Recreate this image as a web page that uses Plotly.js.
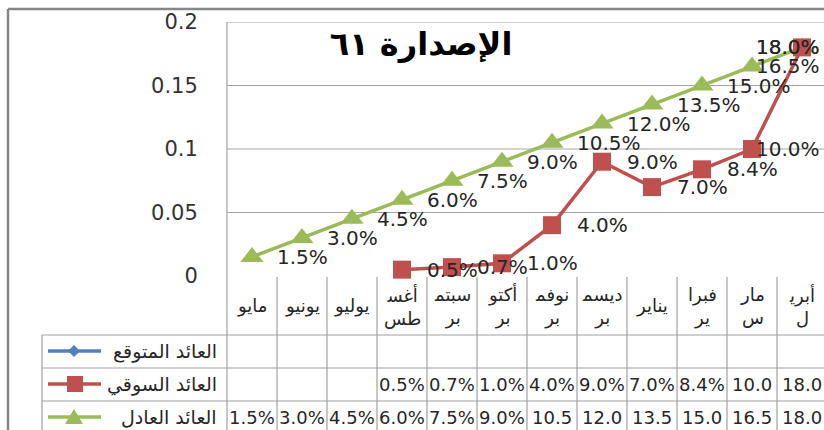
<!DOCTYPE html>
<html>
<head>
<meta charset="utf-8">
<script src="https://cdn.plot.ly/plotly-3.0.1.min.js"></script>
<style>html,body{margin:0;padding:0;background:#fff;}#chart{width:824px;height:430px;}</style>
</head>
<body>
<div id="chart"></div>
<script>
// ---- data ----
const months = ['مايو','يونيو','يوليو','أغسطس','سبتمبر','أكتوبر','نوفمبر','ديسمبر','يناير','فبراير','مارس','أبريل'];
const monthLabels = ['مايو','يونيو','يوليو','أغس\u200d<br>طس','سبتم\u200d<br>بر','أكتو<br>بر','نوفم\u200d<br>بر','ديسم\u200d<br>بر','يناير','فبرا<br>ير','مار<br>س','أبري\u200d<br>ل'];
const seriesNames = ['العائد المتوقع','العائد السوقي','العائد العادل'];
const expectedReturn = [null,null,null,null,null,null,null,null,null,null,null,null];
const marketReturn = [null,null,null,0.005,0.007,0.010,0.040,0.090,0.070,0.084,0.100,0.180];
const fairReturn = [0.015,0.030,0.045,0.060,0.075,0.090,0.105,0.120,0.135,0.150,0.165,0.180];
const yTickVals = [0,0.05,0.1,0.15,0.2];
const yTickText = ['0','0.05','0.1','0.15','0.2'];
const chartTitle = 'الإصدارة ٦١';

// ---- style ----
const colors = ['#4F81BD','#C0504D','#9BBB59'];
const FONT = 'DejaVu Sans, sans-serif';
const W = 824, H = 430, L = 227, T = 22, B = 276;
const xRange = [-0.5, 11.44];
const PX = px => (px - L) / (W - L);
const PY = py => (B - py) / (B - T);
const fmt = v => (v * 100).toFixed(1) + '%';
const gridColor = '#a6a6a6';
const tableColor = '#a0a0a0';

const traces = [
  {x: months, y: expectedReturn, name: seriesNames[0], type: 'scatter', mode: 'lines+markers',
   line: {color: colors[0], width: 3.5}, marker: {symbol: 'diamond', size: 12, color: colors[0]}, cliponaxis: false},
  {x: months, y: fairReturn, name: seriesNames[2], type: 'scatter', mode: 'lines+markers',
   line: {color: colors[2], width: 3.5}, marker: {symbol: 'triangle-up', size: 20, color: colors[2]}, cliponaxis: false},
  {x: months, y: marketReturn, name: seriesNames[1], type: 'scatter', mode: 'lines+markers',
   line: {color: colors[1], width: 3.5}, marker: {symbol: 'square', size: 18, color: colors[1]}, cliponaxis: false}
];

const annotations = [];
const shapes = [];

// data labels
[fairReturn, marketReturn].forEach(arr => {
  arr.forEach((v, i) => {
    if (v === null) return;
    if (i >= 10) {
      annotations.push({xref: 'paper', yref: 'y', x: PX(821), y: v, text: fmt(v), showarrow: false,
        xanchor: 'right', yanchor: 'middle', borderpad: 0, font: {family: FONT, size: 20, color: '#262626'}});
    } else {
      annotations.push({xref: 'x', yref: 'y', x: months[i], y: v, text: fmt(v), showarrow: false,
        xanchor: 'left', yanchor: 'middle', xshift: 24, borderpad: 0, font: {family: FONT, size: 20, color: '#262626'}});
    }
  });
});

// horizontal gridlines (except zero)
yTickVals.forEach(v => {
  if (v === 0) return;
  shapes.push({type: 'line', xref: 'paper', yref: 'y', x0: 0, x1: 1, y0: v, y1: v, line: {color: gridColor, width: 1.2}, layer: 'below'});
});

// category labels
monthLabels.forEach((lab, i) => {
  annotations.push({xref: 'x', yref: 'paper', x: months[i], y: PY(306), text: lab, showarrow: false,
    xanchor: 'center', yanchor: 'middle', font: {family: FONT, size: 18, color: '#262626'}});
});

// table
const rowCenters = [351, 384, 417];
const rowLines = [335, 368, 401];
rowLines.forEach(py => shapes.push({type: 'line', xref: 'paper', yref: 'paper', x0: PX(42), x1: 1, y0: PY(py), y1: PY(py), line: {color: tableColor, width: 1.2}}));
shapes.push({type: 'line', xref: 'paper', yref: 'paper', x0: PX(42), x1: PX(42), y0: PY(335), y1: PY(440), line: {color: tableColor, width: 1.2}});
shapes.push({type: 'line', xref: 'paper', yref: 'paper', x0: 0, x1: 0, y0: 1, y1: PY(440), line: {color: tableColor, width: 1.2}});
for (let i = 0; i < months.length; i++) {
  shapes.push({type: 'line', xref: 'x', yref: 'paper', x0: i + 0.5, x1: i + 0.5, y0: PY(277), y1: PY(440), line: {color: tableColor, width: 1.2}});
}
const tableRows = [expectedReturn, marketReturn, fairReturn];
tableRows.forEach((arr, r) => {
  arr.forEach((v, i) => {
    if (v === null) return;
    let s = fmt(v);
    if (s.length > 4) s = s.slice(0, 4); // cell clips overflowing text
    annotations.push({xref: 'x', yref: 'paper', x: months[i], y: PY(rowCenters[r]), text: s, showarrow: false,
      xanchor: 'center', yanchor: 'middle', font: {family: FONT, size: 18, color: '#262626'}});
  });
  // legend label
  annotations.push({xref: 'paper', yref: 'paper', x: PX(219), y: PY(rowCenters[r]), text: seriesNames[r], showarrow: false,
    xanchor: 'right', yanchor: 'middle', font: {family: FONT, size: 19, color: '#262626'}});
  const cy = rowCenters[r];
  shapes.push({type: 'line', xref: 'paper', yref: 'paper', x0: PX(48), x1: PX(101), y0: PY(cy), y1: PY(cy), line: {color: colors[r], width: 3.5}});
  let path;
  if (r === 0) {
    path = `M ${PX(68)} ${PY(cy)} L ${PX(74)} ${PY(cy - 6)} L ${PX(80)} ${PY(cy)} L ${PX(74)} ${PY(cy + 6)} Z`;
  } else if (r === 1) {
    path = `M ${PX(67)} ${PY(cy - 8)} L ${PX(83)} ${PY(cy - 8)} L ${PX(83)} ${PY(cy + 8)} L ${PX(67)} ${PY(cy + 8)} Z`;
  } else {
    path = `M ${PX(65)} ${PY(cy + 7)} L ${PX(83)} ${PY(cy + 7)} L ${PX(74)} ${PY(cy - 8)} Z`;
  }
  shapes.push({type: 'path', xref: 'paper', yref: 'paper', path: path, fillcolor: colors[r], line: {width: 0}});
});

// outer chart border
shapes.push({type: 'line', xref: 'paper', yref: 'paper', x0: PX(8), x1: PX(830), y0: PY(9), y1: PY(9), line: {color: '#878787', width: 2.5}});
shapes.push({type: 'line', xref: 'paper', yref: 'paper', x0: PX(8), x1: PX(8), y0: PY(9), y1: PY(440), line: {color: '#878787', width: 2.5}});

const layout = {
  width: W, height: H,
  margin: {l: L, r: 0, t: T, b: H - B, pad: 0},
  paper_bgcolor: '#ffffff', plot_bgcolor: '#ffffff',
  showlegend: false,
  title: {text: chartTitle, x: 421 / W, y: 1 - 44 / H, xref: 'container', yref: 'container', xanchor: 'center', yanchor: 'middle',
    font: {family: FONT, size: 32, weight: 'bold', color: '#000000'}},
  xaxis: {type: 'category', categoryarray: months, range: xRange, showticklabels: false, showgrid: false, zeroline: false, showline: false, ticks: ''},
  yaxis: {range: [0, 0.2], tickvals: yTickVals, ticktext: yTickText, showgrid: false, zeroline: false, showline: false,
    ticks: 'outside', ticklen: 24, tickcolor: 'rgba(0,0,0,0)', tickfont: {family: FONT, size: 21, color: '#333333'}},
  annotations: annotations,
  shapes: shapes
};

Plotly.newPlot('chart', traces, layout, {staticPlot: true, displayModeBar: false});
</script>
</body>
</html>
